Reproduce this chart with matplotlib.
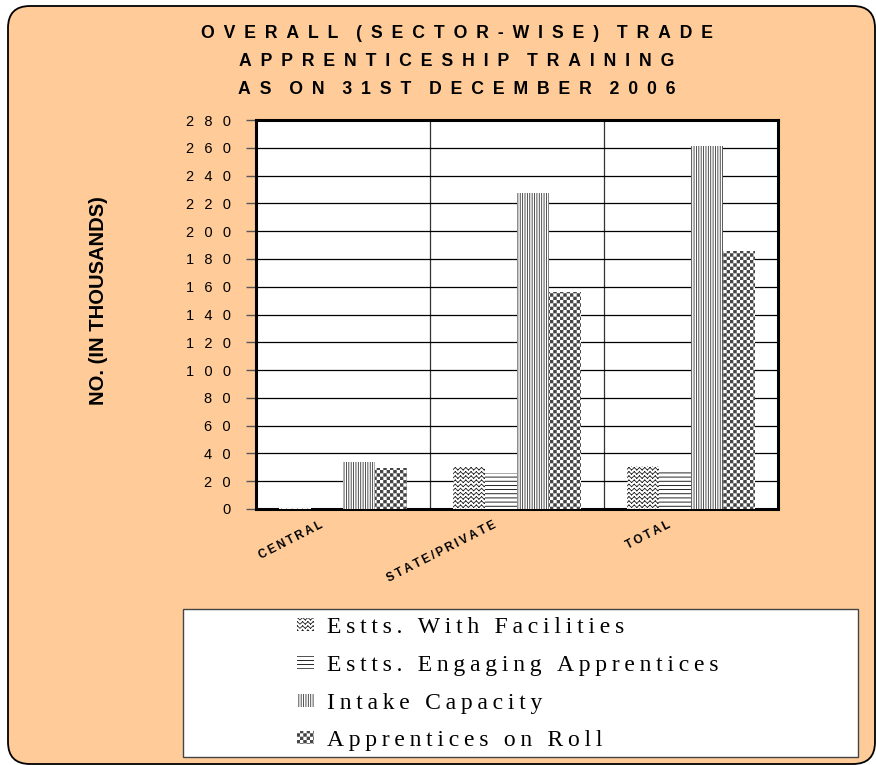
import numpy as np
import matplotlib
matplotlib.use('Agg')
import matplotlib.pyplot as plt
import matplotlib.transforms as mtransforms
from matplotlib import hatch as mhatch
from matplotlib.path import Path
from matplotlib.patches import FancyBboxPatch, Rectangle
from matplotlib.ticker import FuncFormatter, FixedLocator

### data (thousands)
categories = ['CENTRAL', 'STATE/PRIVATE', 'TOTAL']
series_names = ['Estts. With Facilities', 'Estts. Engaging Apprentices',
                'Intake Capacity', 'Apprentices on Roll']
estts_facilities = [0.7, 30.3, 31.0]
estts_engaging = [0.3, 26.0, 26.3]
intake_capacity = [33.8, 227.2, 261.0]
apprentices_roll = [29.5, 155.9, 185.4]
title_lines = ['OVERALL (SECTOR-WISE) TRADE', 'APPRENTICESHIP TRAINING',
               'AS ON 31ST DECEMBER 2006']
ylabel = 'NO. (IN THOUSANDS)'

HATCH_LW = 0.6
plt.rcParams['hatch.linewidth'] = HATCH_LW
plt.rcParams['font.family'] = ['Liberation Sans', 'DejaVu Sans']

### custom hatches: checkerboard ('O') and zigzag ('o')
class CheckerHatch(mhatch.HatchPatternBase):
    def __init__(self, hatch, density):
        self.n = int(hatch.count('O') * density)
        self.n += self.n % 2
        self.num_vertices = (self.n * self.n // 2) * 5

    def set_vertices_and_codes(self, vertices, codes):
        s = 1.0 / self.n
        e = HATCH_LW / 72 / 2   # the stroke widens each square, pull it in
        k = 0
        for i in range(self.n):
            for j in range(self.n):
                if (i + j) % 2 == 0:
                    x0, y0, x1, y1 = i * s + e, j * s + e, (i + 1) * s - e, (j + 1) * s - e
                    vertices[k:k + 5] = [(x0, y0), (x1, y0), (x1, y1), (x0, y1), (x0, y0)]
                    codes[k:k + 5] = [Path.MOVETO, Path.LINETO, Path.LINETO, Path.LINETO, Path.CLOSEPOLY]
                    k += 5

class ZigZagHatch(mhatch.HatchPatternBase):
    def __init__(self, hatch, density):
        self.rows = int(hatch.count('o') * density)
        self.cols = int(self.rows * 0.8)
        self.num_vertices = self.rows * self.cols * 4

    def set_vertices_and_codes(self, vertices, codes):
        h = 1.0 / self.rows
        p = 1.0 / self.cols
        k = 0
        for r in range(self.rows):
            y0 = r * h + 0.2 * h
            y1 = y0 + 0.6 * h
            for c in range(self.cols):
                x0 = c * p
                vertices[k:k + 4] = [(x0, y0), (x0 + p / 2, y1), (x0 + p / 2, y1), (x0 + p, y0)]
                codes[k:k + 4] = [Path.MOVETO, Path.LINETO, Path.MOVETO, Path.LINETO]
                k += 4

mhatch._hatch_types = [mhatch.HorizontalHatch, mhatch.VerticalHatch, CheckerHatch, ZigZagHatch]

def spaced(s, sep=' ', wsep=None):
    # letter-spaced text, as in the original chart
    if wsep is None:
        wsep = sep + ' ' + sep
    return wsep.join(sep.join(wd) for wd in s.split(' '))

fig = plt.figure(figsize=(8.76, 7.65), dpi=100, facecolor='white')

# rounded peach background
bg = FancyBboxPatch((0.08, 0.01), 8.67, 7.58, boxstyle='round,pad=0,rounding_size=0.22',
                    transform=fig.dpi_scale_trans, facecolor='#FFCC99', edgecolor='black',
                    linewidth=1.3, zorder=-5)
fig.patches.append(bg)

ax = fig.add_axes([256/876, 1-509/765, 522/876, 389/765])
ax.set_facecolor('white')

x = np.arange(len(categories))
w = 0.184
styles = [('oooo', '#222222'), ('----', 'black'), ('|||||||', '#333333'), ('OOOOO', '#404040')]
data = [estts_facilities, estts_engaging, intake_capacity, apprentices_roll]
handles = []
for j, (vals, (h, c)) in enumerate(zip(data, styles)):
    b = ax.bar(x + (j - 1.5) * w, vals, w, facecolor='white', edgecolor=c, hatch=h,
               linewidth=0, zorder=3,
               label=spaced(series_names[j], '\u2009', '\u2009 \u2009'))
    handles.append(b)

ax.set_xlim(-0.5, 2.5)
ax.set_ylim(0, 280)
ax.set_yticks(np.arange(0, 281, 20))
ax.yaxis.set_major_formatter(FuncFormatter(lambda v, p: spaced(str(int(v)), '\u2002\u2009')))
ax.tick_params(axis='y', length=7, width=1, color='#555555', pad=11, labelsize=10.5)
ax.xaxis.set_minor_locator(FixedLocator([0.5, 1.5]))
ax.grid(axis='y', which='major', color='black', linewidth=0.9, zorder=1)
ax.grid(axis='x', which='minor', color='#333333', linewidth=0.9, zorder=1)
ax.set_axisbelow(True)
ax.tick_params(axis='x', which='both', length=0, pad=6)
ax.set_xticks(x)
ax.set_xticklabels([spaced(c, '\u2009') for c in categories], rotation=27, ha='right',
                   rotation_mode='anchor', fontsize=8.5, fontweight='bold')
shift = mtransforms.ScaledTranslation(-0.24, -0.02, fig.dpi_scale_trans)
for lbl in ax.get_xticklabels():
    lbl.set_transform(lbl.get_transform() + shift)
for sp in ax.spines.values():
    sp.set_linewidth(2.2)
    sp.set_color('black')

# title
for t, yy in zip(title_lines, [33, 62, 90]):
    fig.text(457/876, 1-yy/765, spaced(t, '\u2002', '\u2002\u2002'), ha='center', va='center',
             fontsize=12.7, fontweight='bold')

fig.text(99/876, 1-301/765, ylabel, rotation=90, ha='center', va='center',
         fontsize=14.5, fontweight='bold')

# legend box
fig.patches.append(Rectangle((1.83, 0.08), 6.75, 1.48, transform=fig.dpi_scale_trans,
                             facecolor='white', edgecolor='#444444', linewidth=1, zorder=1))
leg = fig.legend(handles=handles, loc='upper left', bbox_to_anchor=(297/876, 1-617/765),
                 frameon=False, borderpad=0, borderaxespad=0, handlelength=0.72,
                 handleheight=0.47, handletextpad=0.55, labelspacing=0.71,
                 prop={'family': ['Liberation Serif', 'DejaVu Serif'], 'size': 17})

fig.savefig('out.png', dpi=100, facecolor='white')
